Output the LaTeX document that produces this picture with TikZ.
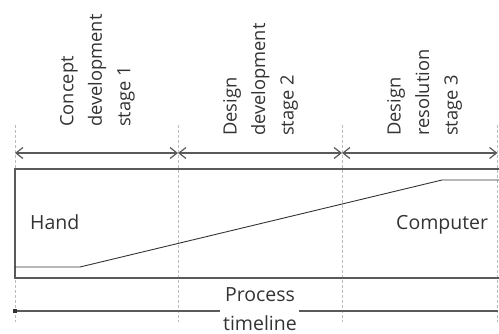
\documentclass[tikz,border=0pt]{standalone}
\usepackage{fontspec}
\setmainfont{Open Sans}
\usetikzlibrary{arrows.meta,calc}
\definecolor{linegray}{HTML}{5A5A5A}
\definecolor{txtgray}{HTML}{333333}
\definecolor{dashgray}{HTML}{BBBBBB}
\begin{document}
\begin{tikzpicture}[x=1pt,y=-1pt,
  lbl/.style={font=\fontsize{19.5}{28.5}\selectfont, text=txtgray, inner sep=0pt},
  stagelbl/.style={lbl, font=\fontsize{18.3}{28.5}\selectfont, rotate=90, align=left, anchor=north west},
  guide/.style={draw=dashgray, line width=0.6pt, dash pattern=on 3pt off 2pt},
  frame/.style={draw=linegray, line width=1.4pt},
  span/.style={draw=linegray, line width=1.2pt, {Straight Barb[length=7pt,width=11pt]}-{Straight Barb[length=7pt,width=11pt]}},
  share/.style={draw=txtgray, line width=0.9pt},
  tline/.style={draw=linegray, line width=1.2pt}]
\useasboundingbox (0,0) rectangle (499,333);
% guides
\coordinate (g0t) at (15,125); \coordinate (g0b) at (15,322);
\coordinate (g1t) at (178,125); \coordinate (g1b) at (178,322);
\coordinate (g2t) at (342,125); \coordinate (g2b) at (342,322);
\coordinate (g3t) at (497.5,125); \coordinate (g3b) at (497.5,322);
\draw[guide] (g0t) -- (g0b);
\draw[guide] (g1t) -- (g1b);
\draw[guide] (g2t) -- (g2b);
\draw[guide] (g3t) -- (g3b);
% stage labels
\node[stagelbl] (s1) at (60,127) {Concept\\development\\stage 1};
\node[stagelbl] (s2) at (223,136) {Design\\development\\stage 2};
\node[stagelbl] (s3) at (387,136) {Design\\resolution\\stage 3};
% spans
\coordinate (a0) at (15,153); \coordinate (a1) at (178,153);
\coordinate (a2) at (342,153); \coordinate (a3) at (497.5,153);
\draw[span] (a0) -- (a1);
\draw[span] (a1) -- (a2);
\draw[span] (a2) -- (a3);
% frame
\coordinate (ftr) at (500,169); \coordinate (ftl) at (15,169);
\coordinate (fbl) at (15,278); \coordinate (fbr) at (500,278);
\draw[frame] (ftr) -- (ftl) -- (fbl) -- (fbr);
% share line
\coordinate (h0) at (15,267); \coordinate (h1) at (80,267);
\coordinate (c0) at (442,180); \coordinate (c1) at (500,180);
\draw[share] (h0) -- (h1) -- (c0) -- (c1);
\node[lbl, anchor=base west] (hand) at (30,229) {Hand};
\node[lbl, anchor=base west] (comp) at (396,229) {Computer};
% timeline
\node[lbl, align=center, anchor=base] (ptl) at (260,330) {Process\\timeline};
\coordinate (t0) at (15,311); \coordinate (t1) at (220,311);
\coordinate (t2) at (299,311); \coordinate (t3) at (497.5,311);
\draw[tline] (t0) -- (t1);
\draw[tline] (t2) -- (t3);
\fill[txtgray] ($(t0)+(-1.8,-1.8)$) rectangle ($(t0)+(1.8,1.8)$);
\end{tikzpicture}
\end{document}
